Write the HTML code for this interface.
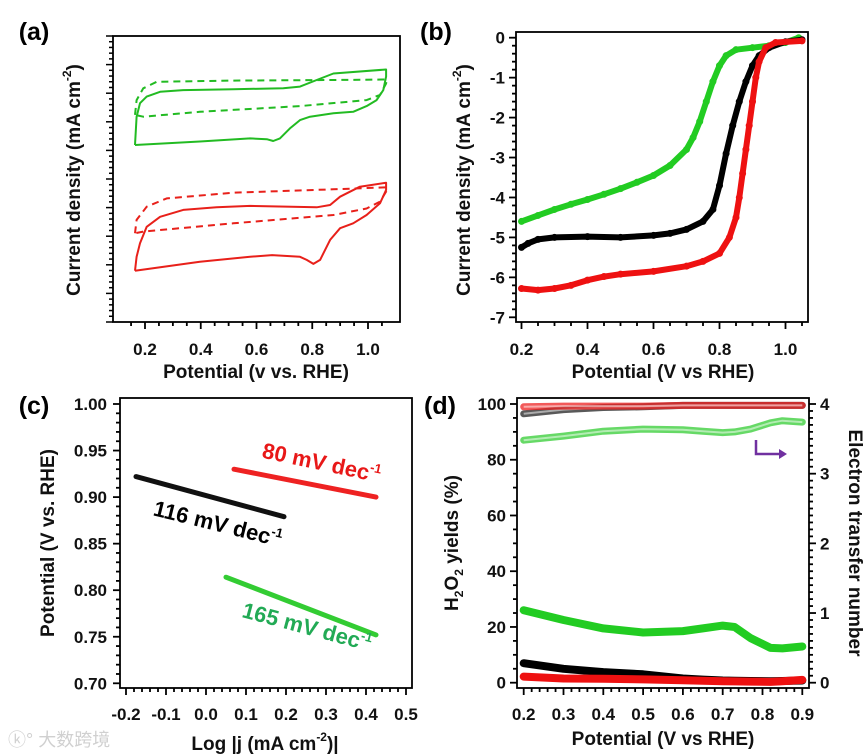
<!DOCTYPE html>
<html><head><meta charset="utf-8"><style>
html,body{margin:0;padding:0;background:#fff;}
svg{display:block;font-family:"Liberation Sans","Noto Sans CJK SC",sans-serif;font-weight:bold;}
</style></head><body>
<svg id="fig" width="866" height="754" viewBox="0 0 866 754" xmlns="http://www.w3.org/2000/svg"></svg>
<script>
// ---------- Panel (a) CV data (potential V, arbitrary current units) ----------
const aGreenSolidV=[0.164,0.397,0.577,0.637,0.660,0.684,0.720,0.756,0.792,0.876,0.947,0.995,1.031,1.055,1.065,1.065,0.876,0.816,0.756,0.696,0.517,0.337,0.254,0.206,0.182,0.170,0.164];
const aGreenSolidJ=[6.19,6.31,6.42,6.39,6.33,6.42,6.77,7.06,7.18,7.30,7.35,7.55,7.76,8.11,8.58,8.83,8.69,8.46,8.23,8.17,8.14,8.11,8.05,7.88,7.65,7.18,6.19];
const aGreenDashV=[0.164,0.170,0.194,0.242,0.517,0.876,1.067,1.065,1.043,0.995,0.756,0.397,0.194,0.164];
const aGreenDashJ=[7.24,7.76,8.17,8.40,8.44,8.46,8.48,8.34,7.94,7.76,7.55,7.35,7.18,7.24];
const aRedSolidV=[0.164,0.397,0.577,0.656,0.756,0.780,0.804,0.828,0.864,0.900,0.947,0.995,1.043,1.065,1.065,0.971,0.900,0.864,0.816,0.577,0.457,0.337,0.254,0.206,0.182,0.170,0.164];
const aRedSolidJ=[1.79,2.11,2.28,2.34,2.28,2.17,2.03,2.17,2.87,3.28,3.45,3.74,4.15,4.62,4.87,4.73,4.38,4.09,4.01,4.06,4.01,3.92,3.68,3.33,2.75,2.28,1.79];
const aRedDashV=[0.164,0.170,0.206,0.278,0.517,0.876,1.067,1.065,1.043,0.995,0.876,0.517,0.194,0.164];
const aRedDashJ=[3.10,3.57,4.03,4.32,4.52,4.64,4.71,4.56,4.21,3.97,3.74,3.45,3.16,3.10];
const aXTicks=[0.2,0.4,0.6,0.8,1.0];
// ---------- Panel (b) LSV ----------
const bGreenV=[0.2,0.25,0.3,0.35,0.4,0.45,0.5,0.55,0.6,0.65,0.7,0.72,0.74,0.76,0.78,0.8,0.82,0.85,0.9,0.95,1.0,1.04];
const bGreenJ=[-4.6,-4.45,-4.3,-4.17,-4.05,-3.92,-3.78,-3.62,-3.45,-3.2,-2.8,-2.5,-2.1,-1.6,-1.1,-0.7,-0.45,-0.3,-0.25,-0.2,-0.12,0.0];
const bBlackV=[0.2,0.22,0.25,0.3,0.4,0.5,0.6,0.65,0.7,0.75,0.78,0.8,0.82,0.84,0.86,0.88,0.9,0.92,0.95,1.0,1.05];
const bBlackJ=[-5.25,-5.15,-5.05,-5.0,-4.98,-5.0,-4.95,-4.9,-4.8,-4.6,-4.3,-3.7,-2.9,-2.2,-1.6,-1.1,-0.7,-0.45,-0.25,-0.1,-0.05];
const bRedV=[0.2,0.25,0.3,0.35,0.4,0.45,0.5,0.6,0.7,0.75,0.8,0.83,0.85,0.86,0.87,0.88,0.89,0.9,0.91,0.92,0.94,0.97,1.05];
const bRedJ=[-6.28,-6.32,-6.28,-6.2,-6.07,-5.98,-5.92,-5.85,-5.72,-5.6,-5.4,-5.0,-4.5,-4.0,-3.4,-2.8,-2.2,-1.6,-1.0,-0.6,-0.25,-0.12,-0.08];
const bXTicks=[0.2,0.4,0.6,0.8,1.0];
const bYTicks=[0,-1,-2,-3,-4,-5,-6,-7];
// ---------- Panel (c) Tafel ----------
const cBlackX=[-0.175,0.195], cBlackY=[0.922,0.879];
const cRedX=[0.07,0.425], cRedY=[0.930,0.900];
const cGreenX=[0.05,0.425], cGreenY=[0.814,0.752];
const cXTicks=[-0.2,-0.1,0.0,0.1,0.2,0.3,0.4,0.5];
const cYTicks=[0.70,0.75,0.80,0.85,0.90,0.95,1.00];
// ---------- Panel (d) RRDE ----------
const dV=[0.2,0.3,0.4,0.5,0.6,0.65,0.7,0.73,0.77,0.82,0.85,0.9];
const dGreenH2O2=[26,22.5,19.5,18,18.5,19.5,20.5,20,16,12.5,12.3,13];
const dBlackH2O2=[7,5,3.8,3,1.5,1.1,0.8,0.7,0.6,0.5,0.6,0.8];
const dRedH2O2=[2.2,1.5,1.4,1.2,0.9,0.7,0.5,0.45,0.4,0.3,0.5,1.0];
const dGreenN=[3.48,3.54,3.61,3.64,3.63,3.61,3.59,3.60,3.64,3.73,3.76,3.74];
const dBlackN=[3.86,3.92,3.95,3.96,3.98,3.98,3.98,3.98,3.98,3.98,3.98,3.98];
const dRedN=[3.96,3.97,3.97,3.97,3.98,3.98,3.98,3.98,3.98,3.98,3.98,3.98];
const dXTicks=[0.2,0.3,0.4,0.5,0.6,0.7,0.8,0.9];
const dYTicks=[0,20,40,60,80,100];
const dY2Ticks=[0,1,2,3,4];

const NS="http://www.w3.org/2000/svg";
const svg=document.getElementById('fig');
function mk(tag,attrs,parent,text){const e=document.createElementNS(NS,tag);for(const k in attrs)e.setAttribute(k,attrs[k]);if(text!==undefined)e.textContent=text;(parent||svg).appendChild(e);return e;}
function lin(d0,d1,r0,r1){return v=>r0+(v-d0)*(r1-r0)/(d1-d0);}
function pathD(xs,ys,sx,sy){return xs.map((v,i)=>(i?'L':'M')+sx(v).toFixed(1)+' '+sy(ys[i]).toFixed(1)).join(' ');}

function ticksX(g,sx,yAx,from,to,step,major,len,minorLen){
  for(let v=from;v<=to+1e-9;v+=step){const isM=major.some(m=>Math.abs(m-v)<1e-6);
    const t=mk('line',{x1:sx(v),x2:sx(v),y1:yAx,y2:yAx+(isM?len:minorLen),stroke:'#000','stroke-width':1.8},g);
    
    }
}
function ticksY(g,sy,xAx,from,to,step,major,len,minorLen,dir){
  for(let v=from;v<=to+1e-9;v+=step){const isM=major.some(m=>Math.abs(m-v)<1e-6);
    const t=mk('line',{x1:xAx,x2:xAx+dir*(isM?len:minorLen),y1:sy(v),y2:sy(v),stroke:'#000','stroke-width':1.8},g);
    
    }
}
function label(g,x,y,txt,anchor,size,fill,name){const t=mk('text',{x:x,y:y,'text-anchor':anchor||'middle','font-size':size||17,fill:fill||'#111'},g,txt);return t;}

// ===== Panel a =====
(function(){
 const g=mk('g',{});
 const sx=lin(0.2,1.0,145,368), sy=lin(0,10,322,36);
 mk('rect',{x:113,y:36,width:287,height:286,fill:'none',stroke:'#000','stroke-width':1.8},g);
 ticksX(g,sx,322,0.15,1.05,0.05,aXTicks,7,4);
 for(let i=0;i<=50;i++){const y=322-i*5.72;const t=mk('line',{x1:113,x2:113-(i%5===0?7:4),y1:y,y2:y,stroke:'#000','stroke-width':1.5},g);}
 aXTicks.forEach(v=>label(g,sx(v),355,v.toFixed(1)));
 label(g,256,378,'Potential (v vs. RHE)','middle',19,'#111','x-axis-title');
 const yt=mk('text',{transform:'translate(80,180) rotate(-90)','text-anchor':'middle','font-size':19,fill:'#111'},g);
 
 yt.innerHTML='Current density (mA cm<tspan dy="-9" font-size="12">-2</tspan><tspan dy="9">)</tspan>';
 const series=[[aGreenSolidV,aGreenSolidJ,'#22bb22',null,'cv-green-solid'],[aGreenDashV,aGreenDashJ,'#22bb22','7 5','cv-green-dashed'],[aRedSolidV,aRedSolidJ,'#e8201a',null,'cv-red-solid'],[aRedDashV,aRedDashJ,'#e8201a','7 5','cv-red-dashed']];
 series.forEach(s=>{const p=mk('path',{d:pathD(s[0],s[1],sx,sy),fill:'none',stroke:s[2],'stroke-width':2,'stroke-linejoin':'round'},g);if(s[3])p.setAttribute('stroke-dasharray',s[3]);});
 label(g,34,40,'(a)','middle',25,'#000','panel-label-a');
})();

// ===== Panel b =====
(function(){
 const g=mk('g',{});
 const sx=lin(0.2,1.0,521.5,785.5), sy=lin(0,-7,37.7,317.3);
 mk('rect',{x:516,y:32,width:292,height:290,fill:'none',stroke:'#000','stroke-width':1.8},g);
 ticksX(g,sx,322,0.2,1.05,0.05,bXTicks,7,4);
 ticksY(g,sy,516,-7,0,0.2,bYTicks,7,4,-1);
 bXTicks.forEach(v=>label(g,sx(v),355,v.toFixed(1)));
 bYTicks.forEach(v=>label(g,505,sy(v)+6,String(v),'end'));
 label(g,663,378,'Potential (V vs RHE)','middle',19,'#111','x-axis-title');
 const yt=mk('text',{transform:'translate(470,180) rotate(-90)','text-anchor':'middle','font-size':19,fill:'#111'},g);
 
 yt.innerHTML='Current density (mA cm<tspan dy="-9" font-size="12">-2</tspan><tspan dy="9">)</tspan>';
 [[bGreenV,bGreenJ,'#22cc22','lsv-green'],[bBlackV,bBlackJ,'#000','lsv-black'],[bRedV,bRedJ,'#ee1111','lsv-red']].forEach(s=>{
  const p=mk('path',{d:pathD(s[0],s[1],sx,sy),fill:'none',stroke:s[2],'stroke-width':6,'stroke-linejoin':'round','stroke-linecap':'round'},g);
  
  s[0].forEach((v,i)=>{const c=mk('circle',{cx:sx(v),cy:sy(s[1][i]),r:3.5,fill:s[2]},g);});
 });
 label(g,436,40,'(b)','middle',25,'#000','panel-label-b');
})();

// ===== Panel c =====
(function(){
 const g=mk('g',{});
 const sx=lin(-0.2,0.5,126,406), sy=lin(0.70,1.00,683.3,404);
 mk('rect',{x:120,y:398,width:292,height:290,fill:'none',stroke:'#000','stroke-width':1.8},g);
 ticksX(g,sx,688,-0.2,0.5,0.02,cXTicks,7,4);
 ticksY(g,sy,120,0.70,1.00,0.01,cYTicks,7,4,-1);
 cXTicks.forEach(v=>label(g,sx(v),720,v.toFixed(1)));
 cYTicks.forEach(v=>label(g,107,sy(v)+6,v.toFixed(2),'end'));
 const xt=mk('text',{x:265,y:750,'text-anchor':'middle','font-size':19,fill:'#111'},g);
 
 xt.innerHTML='Log |j (mA cm<tspan dy="-9" font-size="12">-2</tspan><tspan dy="9">)|</tspan>';
 label(g,0,0,'Potential (V vs. RHE)','middle',19,'#111','y-axis-title').setAttribute('transform','translate(54,543) rotate(-90)');
 [[cBlackX,cBlackY,'#111','tafel-black'],[cRedX,cRedY,'#ee2222','tafel-red'],[cGreenX,cGreenY,'#33cc33','tafel-green']].forEach(s=>{
  const p=mk('path',{d:pathD(s[0],s[1],sx,sy),fill:'none',stroke:s[2],'stroke-width':5,'stroke-linecap':'round'},g);
  });
 function slope(x,y,rot,txt,col,name){const t=mk('text',{transform:`translate(${x},${y}) rotate(${rot})`,'text-anchor':'middle','font-size':22,fill:col},g);t.innerHTML=txt+'<tspan dy="-9" font-size="13">-1</tspan>';}
 slope(320,470,12,'80 mV dec','#e81818','slope-label-red');
 slope(216,531,14,'116 mV dec','#000','slope-label-black');
 slope(305,634,15,'165 mV dec','#22aa55','slope-label-green');
 label(g,34,414,'(c)','middle',25,'#000','panel-label-c');
 const wm=mk('text',{x:8,y:746,'font-size':18,fill:'#d0d0d0','font-weight':'normal'},g,'\u24DA\u00B0 大数跨境');
 
})();

// ===== Panel d =====
(function(){
 const g=mk('g',{});
 const sx=lin(0.2,0.9,523.7,802.3), sy=lin(0,100,682.7,404), sy2=lin(0,4,682.7,404);
 mk('rect',{x:517,y:398,width:292,height:290,fill:'none',stroke:'#000','stroke-width':1.8},g);
 ticksX(g,sx,688,0.2,0.9,0.02,dXTicks,7,4);
 ticksY(g,sy,517,0,100,5,dYTicks,7,4,-1);
 ticksY(g,sy2,809,0,4,0.1,dY2Ticks,7,4,1);
 dXTicks.forEach(v=>label(g,sx(v),720,v.toFixed(1)));
 dYTicks.forEach(v=>label(g,506,sy(v)+6,String(v),'end'));
 dY2Ticks.forEach(v=>label(g,820,sy2(v)+6,String(v),'start'));
 label(g,663,745,'Potential (V vs RHE)','middle',19,'#111','x-axis-title');
 const yt=mk('text',{transform:'translate(458,543) rotate(-90)','text-anchor':'middle','font-size':19,fill:'#111'},g);
 
 yt.innerHTML='H<tspan dy="5" font-size="12">2</tspan><tspan dy="-5">O</tspan><tspan dy="5" font-size="12">2</tspan><tspan dy="-5"> yields (%)</tspan>';
 label(g,0,0,'Electron transfer number','middle',19,'#111','y2-axis-title').setAttribute('transform','translate(849,543) rotate(90)');
 [[dGreenH2O2,'#22cc22','h2o2-green'],[dBlackH2O2,'#000','h2o2-black'],[dRedH2O2,'#ee1111','h2o2-red']].forEach(s=>{
  const p=mk('path',{d:pathD(dV,s[0],sx,sy),fill:'none',stroke:s[1],'stroke-width':8,'stroke-linejoin':'round','stroke-linecap':'round'},g);
  });
 [[dGreenN,'#33cc33','n-green'],[dBlackN,'#222','n-black'],[dRedN,'#ee2222','n-red']].forEach(s=>{
  const p=mk('path',{d:pathD(dV,s[0],sx,sy2),fill:'none',stroke:s[1],'stroke-width':7,'stroke-opacity':0.75,'stroke-linejoin':'round','stroke-linecap':'round'},g);
  
  const q=mk('path',{d:pathD(dV,s[0],sx,sy2),fill:'none',stroke:'#fff','stroke-width':2,'stroke-opacity':0.5},g);
  });
 const ar=mk('path',{d:'M756 440 L756 454 L780 454',fill:'none',stroke:'#7030a0','stroke-width':2.5},g);
 
 const ah=mk('path',{d:'M787 454 L779 449 L779 459 Z',fill:'#7030a0'},g);
 
 label(g,440,414,'(d)','middle',25,'#000','panel-label-d');
})();
</script>
</body></html>
